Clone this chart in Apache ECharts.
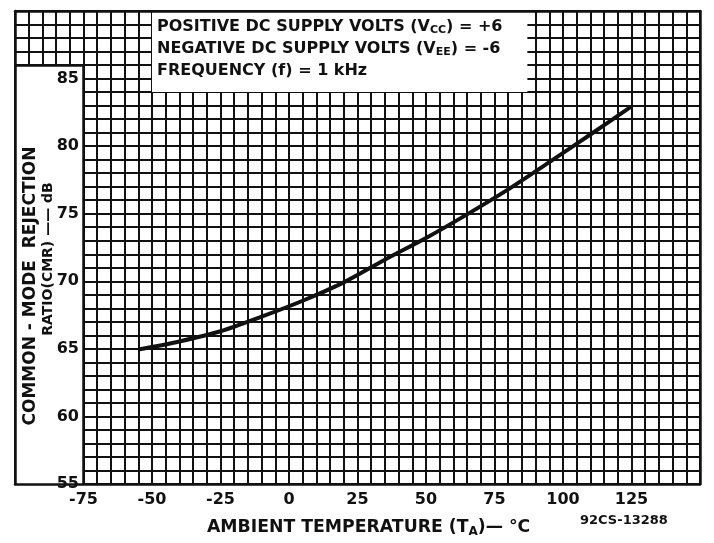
<!DOCTYPE html>
<html>
<head>
<meta charset="utf-8">
<script src="https://cdn.jsdelivr.net/npm/echarts@6/dist/echarts.min.js"></script>
<style>
  html, body { margin: 0; padding: 0; background: #fff; }
  #chart { width: 714px; height: 543px; }
</style>
</head>
<body>
<div id="chart"></div>
<script>
// CMR vs ambient temperature, every 15 degC
var temps = [-55, -40, -25, -10, 5, 20, 35, 50, 65, 80, 95, 110, 125];
var cmr = [64.95, 65.55, 66.3, 67.38, 68.56, 69.92, 71.6, 73.2, 74.95, 76.8, 78.82, 80.86, 82.95];

var xTicks = [-75, -50, -25, 0, 25, 50, 75, 100, 125];
var yTicks = [55, 60, 65, 70, 75, 80, 85];

var FONT = 'DejaVu Sans';
var INK = '#111';

var chart = echarts.init(document.getElementById('chart'));

function frameAxis(pos) {
    return {
        type: 'value', position: pos, z: 10,
        axisLine: { show: true, onZero: false, lineStyle: { color: INK, width: 2.5 } },
        axisTick: { show: false }, axisLabel: { show: false }, splitLine: { show: false }
    };
}

var xTop = frameAxis('top');
xTop.min = -100; xTop.max = 150;
var xBottom = frameAxis('bottom');
xBottom.min = -100; xBottom.max = 150;
var yRight = frameAxis('right');
yRight.min = 55; yRight.max = 90;

var option = {
    animation: false,
    backgroundColor: '#fff',
    grid: { left: 15, right: 14, top: 11, bottom: 59 },
    xAxis: [
        {
            type: 'value', min: -100, max: 150, interval: 5, position: 'bottom',
            axisLine: { show: false, onZero: false }, axisTick: { show: false },
            splitLine: { show: true, lineStyle: { color: INK, width: 2 } },
            axisLabel: {
                margin: 8, color: INK, fontFamily: FONT, fontWeight: 'bold', fontSize: 16,
                formatter: function (v) { return xTicks.indexOf(v) >= 0 ? String(v) : ''; }
            }
        },
        xBottom,
        xTop
    ],
    yAxis: [
        {
            type: 'value', min: 55, max: 90, interval: 1, position: 'left',
            axisLine: { show: false, onZero: false }, axisTick: { show: false }, axisLabel: { show: false },
            splitLine: { show: true, lineStyle: { color: INK, width: 2 } }
        },
        {
            type: 'value', min: 55, max: 90, interval: 5, position: 'left', z: 10,
            axisLine: { show: true, onZero: false, lineStyle: { color: INK, width: 2.5 } },
            axisTick: { show: false }, splitLine: { show: false },
            axisLabel: {
                margin: -64, color: INK, fontFamily: FONT, fontWeight: 'bold', fontSize: 16,
                formatter: function (v) { return yTicks.indexOf(v) >= 0 ? String(v) : ''; }
            }
        },
        yRight
    ],
    series: [
        {
            type: 'line',
            xAxisIndex: 0, yAxisIndex: 0,
            data: temps.map(function (t, i) { return [t, cmr[i]]; }),
            smooth: 0.3,
            showSymbol: false,
            lineStyle: { color: INK, width: 4 },
            z: 5,
            markArea: {
                silent: true,
                itemStyle: { color: '#fff' },
                data: [
                    [{ coord: [-100, 55] }, { coord: [-75, 86] }],   // white band for the y labels
                    [{ coord: [-50, 84] }, { coord: [87, 90] }]     // conditions box
                ]
            },
            markLine: {
                silent: true, symbol: 'none',
                lineStyle: { color: INK, width: 2.5, type: 'solid' },
                label: { show: false },
                data: [
                    [{ coord: [-75, 55] }, { coord: [-75, 86] }],
                    [{ coord: [-100, 86] }, { coord: [-75, 86] }]
                ]
            }
        }
    ],
    graphic: [
        {
            type: 'text', left: 157, top: 16, z: 100,
            style: {
                text: 'POSITIVE DC SUPPLY VOLTS (V{s|CC}) = +6\nNEGATIVE DC SUPPLY VOLTS (V{s|EE}) = -6\nFREQUENCY (f) = 1 kHz',
                font: 'bold 16px "DejaVu Sans"', fill: INK, lineHeight: 22,
                rich: { s: { font: 'bold 11px "DejaVu Sans"', fill: INK, padding: [7, 0, 0, 0] } }
            }
        },
        {
            type: 'text', x: 31, y: 286, rotation: Math.PI / 2, z: 100,
            style: {
                text: 'COMMON - MODE  REJECTION', font: 'bold 17px "DejaVu Sans"', fill: INK,
                align: 'center', verticalAlign: 'middle'
            }
        },
        {
            type: 'text', x: 48, y: 259, rotation: Math.PI / 2, z: 100,
            style: {
                text: 'RATIO(CMR) \u2014\u2014 dB', font: 'bold 14px "DejaVu Sans"', fill: INK,
                align: 'center', verticalAlign: 'middle'
            }
        },
        {
            type: 'text', left: 207, top: 519, z: 100,
            style: {
                text: 'AMBIENT TEMPERATURE (T{s|A})\u2014 \u00B0C', font: 'bold 17.3px "DejaVu Sans"', fill: INK,
                rich: { s: { font: 'bold 12px "DejaVu Sans"', fill: INK, padding: [8, 0, 0, 0] } }
            }
        },
        {
            type: 'text', left: 580, top: 514, z: 100,
            style: { text: '92CS-13288', font: 'bold 13px "DejaVu Sans"', fill: INK }
        }
    ]
};

chart.setOption(option);
</script>
</body>
</html>
